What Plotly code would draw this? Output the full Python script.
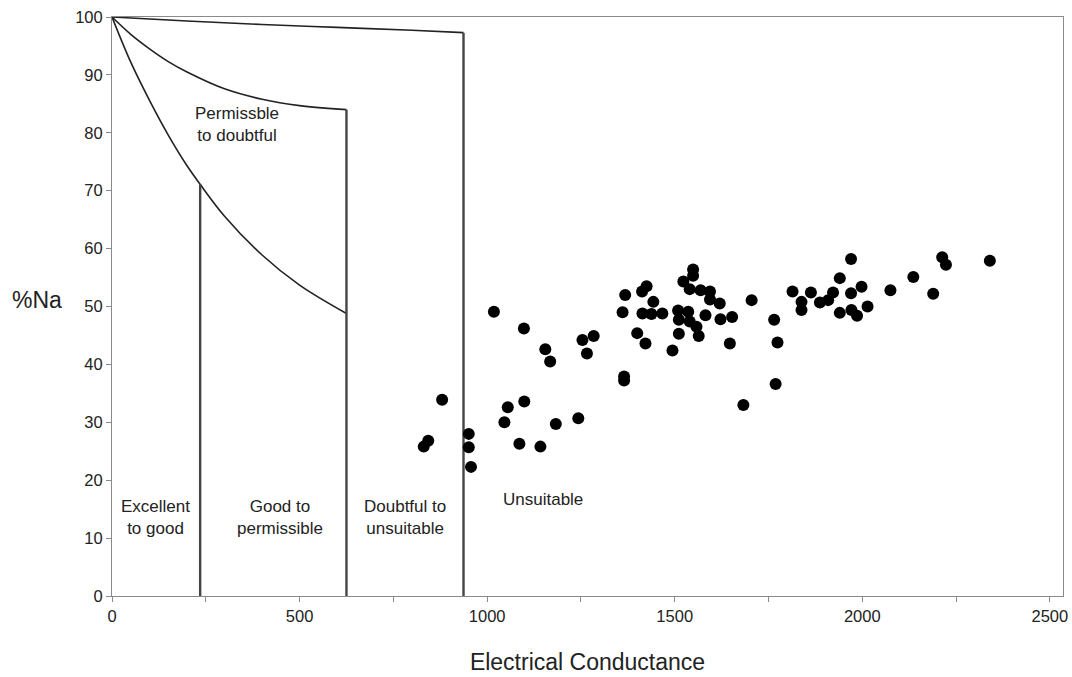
import plotly.graph_objects as go

# Sample data (Electrical Conductance vs %Na)
ec = [831, 843, 880, 951, 951, 957, 1018, 1046, 1055, 1086, 1098, 1099, 1142, 1155, 1168,
      1183, 1243, 1254, 1266, 1284, 1361, 1365, 1365, 1368, 1400, 1413, 1414, 1422, 1425,
      1438, 1443, 1467, 1494, 1509, 1511, 1511, 1523, 1536, 1540, 1540, 1549, 1549, 1558,
      1564, 1569, 1582, 1594, 1594, 1620, 1622, 1647, 1653, 1683, 1705, 1765, 1769, 1774,
      1814, 1838, 1838, 1863, 1887, 1909, 1922, 1940, 1940, 1970, 1970, 1971, 1986, 1998,
      2014, 2075, 2136, 2189, 2213, 2223, 2340]
na = [25.8, 26.8, 33.9, 28.0, 25.7, 22.3, 49.1, 30.0, 32.6, 26.3, 46.2, 33.6, 25.8, 42.6, 40.5,
      29.7, 30.7, 44.2, 41.9, 44.9, 49.0, 37.9, 37.2, 52.0, 45.4, 52.6, 48.8, 43.6, 53.5,
      48.7, 50.8, 48.8, 42.4, 49.3, 47.7, 45.3, 54.3, 49.1, 47.4, 53.0, 56.4, 55.3, 46.5,
      44.9, 52.8, 48.5, 52.6, 51.2, 50.5, 47.8, 43.6, 48.2, 33.0, 51.1, 47.7, 36.6, 43.8,
      52.6, 50.8, 49.4, 52.4, 50.7, 51.1, 52.4, 54.9, 48.9, 58.2, 52.3, 49.4, 48.4, 53.4,
      50.0, 52.8, 55.1, 52.2, 58.5, 57.2, 57.9]

# Classification boundary curves
top_x = [0, 200, 400, 600, 800, 937]
top_y = [100, 99.3, 98.7, 98.2, 97.7, 97.3]
mid_x = [0, 50, 100, 150, 200, 300, 400, 500, 625]
mid_y = [100, 97.0, 94.5, 92.3, 90.5, 87.6, 85.8, 84.7, 84.0]
low_x = [0, 50, 100, 150, 200, 235, 300, 400, 500, 625]
low_y = [100, 92.2, 85.6, 79.6, 74.3, 71.1, 65.6, 58.9, 53.7, 48.8]
vline_x = [235, 625, 937]
vline_top = [71.1, 84.0, 97.3]

region_labels = ["Permissble<br>to doubtful", "Excellent<br>to good", "Good to<br>permissible",
                 "Doubtful to<br>unsuitable", "Unsuitable"]
region_x = [333, 115, 448, 781, 1149]
region_y = [81.5, 13.6, 13.6, 13.6, 16.6]

FONT = "Liberation Sans, Arial"
fig = go.Figure()
for xs, ys in [(top_x, top_y), (mid_x, mid_y), (low_x, low_y)]:
    fig.add_trace(go.Scatter(x=xs, y=ys, mode="lines",
                             line=dict(color="#222222", width=1.6, shape="spline"),
                             showlegend=False, hoverinfo="skip"))
for vx, vt in zip(vline_x, vline_top):
    fig.add_trace(go.Scatter(x=[vx, vx], y=[0, vt], mode="lines",
                             line=dict(color="#444444", width=2.4),
                             showlegend=False, hoverinfo="skip"))

fig.add_trace(go.Scatter(x=ec, y=na, mode="markers",
                         marker=dict(color="black", size=12, line=dict(width=0)),
                         showlegend=False))

for t, x, y in zip(region_labels, region_x, region_y):
    fig.add_annotation(x=x, y=y, text=t, showarrow=False,
                       font=dict(family=FONT, size=17, color="#222222"))

axis_common = dict(showgrid=False, zeroline=False, showline=True, linecolor="#8a8a8a",
                   linewidth=1, mirror=True, ticks="outside", ticklen=5,
                   tickcolor="#8a8a8a", ticklabeloverflow="allow", automargin=False)

fig.update_layout(
    width=1072, height=677,
    margin=dict(l=112, r=9, t=17, b=81, autoexpand=False),
    plot_bgcolor="white", paper_bgcolor="white",
    font=dict(family=FONT, size=16.5, color="#222222"),
    xaxis=dict(axis_common, range=[0, 2535], tickvals=[0, 500, 1000, 1500, 2000, 2500],
               minor=dict(tickvals=[250, 750, 1250, 1750, 2250], ticks="outside", ticklen=5,
                          tickcolor="#8a8a8a"),
               title=dict(text="Electrical Conductance", font=dict(size=23), standoff=30)),
    yaxis=dict(axis_common, range=[0, 100], tickvals=list(range(0, 101, 10))),
)
fig.add_annotation(xref="paper", yref="paper", x=-0.079, y=0.511, text="%Na",
                   showarrow=False, xanchor="center",
                   font=dict(family=FONT, size=23, color="#222222"))

fig.write_html("out.html", config={"displayModeBar": False},
               post_script="document.body.style.margin='0';document.body.style.overflow='hidden';")
